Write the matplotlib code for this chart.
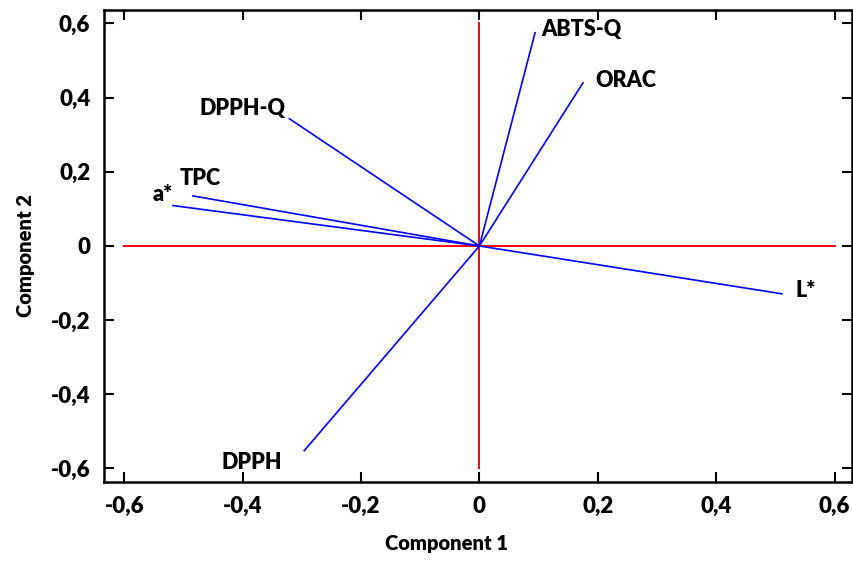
import numpy as np
import matplotlib.pyplot as plt
from matplotlib.ticker import FuncFormatter

plt.rcParams['font.family'] = ['Lato', 'DejaVu Sans']
plt.rcParams['font.weight'] = 'heavy'

# loading vectors (component 1, component 2)
variables = ['ABTS-Q', 'ORAC', 'DPPH-Q', 'TPC', 'a*', 'L*', 'DPPH']
comp1 = [0.094, 0.175, -0.321, -0.484, -0.518, 0.511, -0.296]
comp2 = [0.575, 0.440, 0.343, 0.135, 0.109, -0.129, -0.552]

# label anchor positions (data units)
label_x = [0.105, 0.196, -0.473, -0.506, -0.552, 0.534, -0.436]
label_y = [0.585, 0.445, 0.372, 0.183, 0.139, -0.120, -0.583]

ticks = [-0.6, -0.4, -0.2, 0, 0.2, 0.4, 0.6]


def comma(v, pos):
    if abs(v) < 1e-9:
        return '0'
    return ('%.1f' % v).replace('.', ',')


fig = plt.figure(figsize=(8.54, 5.62), dpi=100)
ax = fig.add_axes([0.122, 0.142, 0.876, 0.840])

ax.plot([-0.6, 0.6], [0, 0], color='red', lw=1.4)
ax.plot([0, 0], [-0.6, 0.6], color='red', lw=1.4)

for i in range(len(variables)):
    ax.plot([0, comp1[i]], [0, comp2[i]], color='blue', lw=1.2)
    ax.text(label_x[i], label_y[i], variables[i], fontsize=15.5, fontweight='heavy',
            ha='left', va='center')

ax.set_xlim(-0.634, 0.63)
ax.set_ylim(-0.637, 0.636)
ax.set_xticks(ticks)
ax.set_yticks(ticks)
ax.xaxis.set_major_formatter(FuncFormatter(comma))
ax.yaxis.set_major_formatter(FuncFormatter(comma))
ax.tick_params(direction='in', top=True, right=True, length=7, width=1.5,
               labelsize=16, pad=10)
for lab in ax.get_xticklabels() + ax.get_yticklabels():
    lab.set_fontweight('heavy')
for s in ax.spines.values():
    s.set_linewidth(1.8)

ax.set_xlabel('Component 1', fontsize=14.5, fontweight='heavy')
ax.set_ylabel('Component 2', fontsize=14.5, fontweight='heavy')
ax.xaxis.set_label_coords(0.457, -0.11)
ax.yaxis.set_label_coords(-0.092, 0.481)

plt.savefig('out.png', dpi=100)
